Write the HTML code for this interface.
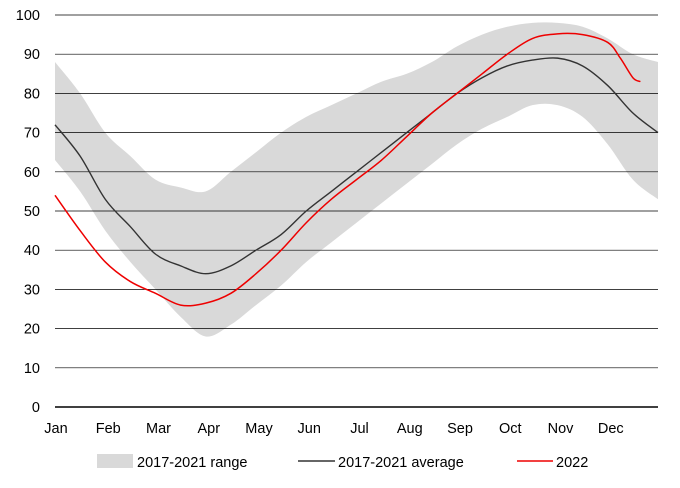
<!DOCTYPE html>
<html><head><meta charset="utf-8"><style>
html,body{margin:0;padding:0;background:#fff;}
svg{display:block;font-family:"Liberation Sans",sans-serif;}
</style></head><body>
<svg id="chart" width="680" height="488"></svg>
<script>
const months=["Jan","Feb","Mar","Apr","May","Jun","Jul","Aug","Sep","Oct","Nov","Dec"];
const yTicks=[0,10,20,30,40,50,60,70,80,90,100];
// positions in month units (0 = Jan 1, 12 = Dec 31)
const t=[0,0.5,1,1.5,2,2.5,3,3.5,4,4.5,5,5.5,6,6.5,7,7.5,8,8.5,9,9.5,10,10.5,11,11.5,12];
const rangeHigh=[88,80,70,64,58,56,55,60,65,70,74,77,80,83,85,88,92,95,97,98,98,97,94,90,88];
const rangeLow=[63,55,45,37,30,23,18,21,26,31,37,42,47,52,57,62,67,71,74,77,77,74,67,58,53];
const avg=[72,64,53,46,39,36,34,36,40,44,50,55,60,65,70,75,80,84,87,88.5,89,87,82,75,70];
const t22=[0,0.5,1,1.5,2,2.5,3,3.5,4,4.5,5,5.5,6,6.5,7,7.5,8,8.5,9,9.5,10,10.5,11,11.25,11.5,11.65];
const y22=[54,45,37,32,29,26,26.5,29,34,40,47,53,58,63,69,75,80,85,90,94,95.2,95,93,89,84,83];
const X0=55,X1=658,Y0=407,Y1=15;
const xs=m=>X0+(X1-X0)*m/12;
const ys=v=>Y0-(Y0-Y1)*v/100;
const svg=document.getElementById('chart');
const NS='http://www.w3.org/2000/svg';
function mk(tag,attrs,parent){const e=document.createElementNS(NS,tag);for(const k in attrs)e.setAttribute(k,attrs[k]);(parent||svg).appendChild(e);return e;}
function smooth(pts,start){
 let d=(start?'M':'L')+pts[0][0]+','+pts[0][1];
 for(let i=0;i<pts.length-1;i++){
  const p0=pts[Math.max(0,i-1)],p1=pts[i],p2=pts[i+1],p3=pts[Math.min(pts.length-1,i+2)];
  const c1=[p1[0]+(p2[0]-p0[0])/6,p1[1]+(p2[1]-p0[1])/6];
  const c2=[p2[0]-(p3[0]-p1[0])/6,p2[1]-(p3[1]-p1[1])/6];
  d+='C'+c1[0]+','+c1[1]+' '+c2[0]+','+c2[1]+' '+p2[0]+','+p2[1];
 }
 return d;
}
const hiPts=t.map((m,i)=>[xs(m),ys(rangeHigh[i])]);
const loPts=t.map((m,i)=>[xs(m),ys(rangeLow[i])]).reverse();
const area=mk('path',{d:smooth(hiPts,true)+smooth(loPts,false)+'Z',fill:'#d9d9d9'});


yTicks.forEach(v=>{
 const g=mk('line',{x1:X0,x2:X1,y1:ys(v),y2:ys(v),stroke:'#000','stroke-width':v===0?1.5:0.7});
 
 
 const tx=mk('text',{x:40,y:ys(v)+5,'text-anchor':'end','font-size':14.5,fill:'#000'});
 tx.textContent=v;
 
 
});
months.forEach((mo,i)=>{
 const tx=mk('text',{x:i===0?56:xs(i)+3,y:433,'text-anchor':'middle','font-size':14.5,fill:'#000'});
 tx.textContent=mo;
 
 
});
const avgLine=mk('path',{d:smooth(t.map((m,i)=>[xs(m),ys(avg[i])]),true),fill:'none',stroke:'#333','stroke-width':1.4});


const l22=mk('path',{d:smooth(t22.map((m,i)=>[xs(m),ys(y22[i])]),true),fill:'none',stroke:'#e00','stroke-width':1.5});


const lg=mk('g',{});


mk('rect',{x:97,y:454,width:36,height:14,fill:'#d9d9d9'},lg);
mk('line',{x1:298,x2:335,y1:461,y2:461,stroke:'#333','stroke-width':1.4},lg);
mk('line',{x1:517,x2:553,y1:461,y2:461,stroke:'#e00','stroke-width':1.5},lg);
[[137,'2017-2021 range'],[338,'2017-2021 average'],[556,'2022']].forEach(([x,s])=>{
 const tx=mk('text',{x:x,y:467,'font-size':14.5,fill:'#000'},lg);
 tx.textContent=s;
 
 
});
</script>
</body></html>
